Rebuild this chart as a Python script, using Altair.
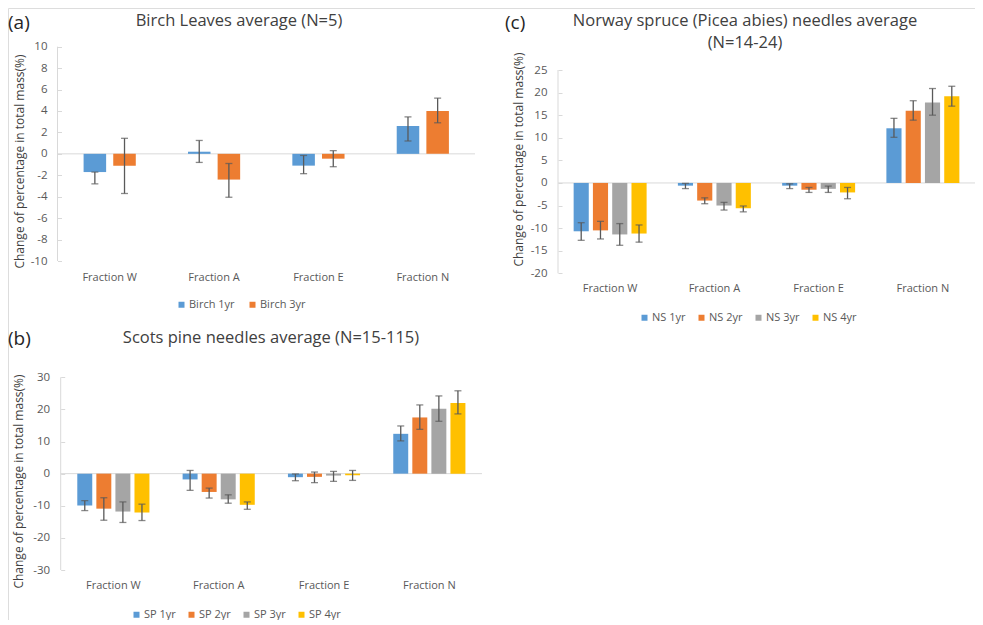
import altair as alt
import pandas as pd

# ---------------- data ----------------
CATEGORIES = ["Fraction W", "Fraction A", "Fraction E", "Fraction N"]

BIRCH_SERIES = ["Birch 1yr", "Birch 3yr"]
birch_1yr = [-1.7, 0.2, -1.1, 2.6]
birch_1yr_lo = [-2.8, -0.8, -1.85, 1.2]
birch_1yr_hi = [-1.7, 1.25, -0.15, 3.45]
birch_3yr = [-1.1, -2.4, -0.45, 4.0]
birch_3yr_lo = [-3.7, -4.05, -1.2, 2.9]
birch_3yr_hi = [1.45, -0.9, 0.3, 5.2]

SP_SERIES = ["SP 1yr", "SP 2yr", "SP 3yr", "SP 4yr"]
sp_1yr = [-9.9, -1.8, -1.1, 12.4]
sp_1yr_lo = [-11.5, -5.2, -2.2, 10.2]
sp_1yr_hi = [-8.4, 1.0, -0.1, 14.85]
sp_2yr = [-10.9, -5.7, -1.0, 17.5]
sp_2yr_lo = [-14.5, -7.6, -2.8, 13.8]
sp_2yr_hi = [-7.5, -4.5, 0.5, 21.4]
sp_3yr = [-11.8, -8.0, -0.6, 20.2]
sp_3yr_lo = [-15.2, -9.2, -2.4, 16.3]
sp_3yr_hi = [-8.8, -6.6, 0.7, 24.2]
sp_4yr = [-12.1, -9.7, -0.5, 22.0]
sp_4yr_lo = [-14.6, -11.1, -2.1, 18.6]
sp_4yr_hi = [-9.5, -8.8, 1.0, 25.8]

NS_SERIES = ["NS 1yr", "NS 2yr", "NS 3yr", "NS 4yr"]
ns_1yr = [-10.7, -0.6, -0.6, 12.1]
ns_1yr_lo = [-12.7, -1.25, -1.25, 10.1]
ns_1yr_hi = [-8.8, -0.1, -0.2, 14.3]
ns_2yr = [-10.5, -3.9, -1.5, 16.0]
ns_2yr_lo = [-12.4, -4.6, -2.1, 13.9]
ns_2yr_hi = [-8.5, -3.3, -1.0, 18.2]
ns_3yr = [-11.4, -5.0, -1.3, 17.8]
ns_3yr_lo = [-13.8, -6.0, -2.1, 15.0]
ns_3yr_hi = [-9.0, -4.3, -0.7, 20.9]
ns_4yr = [-11.2, -5.6, -2.1, 19.2]
ns_4yr_lo = [-13.1, -6.4, -3.5, 17.0]
ns_4yr_hi = [-9.3, -5.1, -1.0, 21.4]

COLORS = ["#5B9BD5", "#ED7D31", "#A5A5A5", "#FFC000"]
YTITLE = "Change of percentage in total mass(%)"


def long_df(series, values, los, his):
    rows = []
    for s, vals, ls, hs in zip(series, values, los, his):
        for c, v, l, h in zip(CATEGORIES, vals, ls, hs):
            rows.append({"category": c, "series": s, "value": v, "lo": l, "hi": h})
    return pd.DataFrame(rows)


birch_df = long_df(BIRCH_SERIES, [birch_1yr, birch_3yr],
                   [birch_1yr_lo, birch_3yr_lo], [birch_1yr_hi, birch_3yr_hi])
sp_df = long_df(SP_SERIES, [sp_1yr, sp_2yr, sp_3yr, sp_4yr],
                [sp_1yr_lo, sp_2yr_lo, sp_3yr_lo, sp_4yr_lo],
                [sp_1yr_hi, sp_2yr_hi, sp_3yr_hi, sp_4yr_hi])
ns_df = long_df(NS_SERIES, [ns_1yr, ns_2yr, ns_3yr, ns_4yr],
                [ns_1yr_lo, ns_2yr_lo, ns_3yr_lo, ns_4yr_lo],
                [ns_1yr_hi, ns_2yr_hi, ns_3yr_hi, ns_4yr_hi])

# ---------------- layout ----------------
W, H = 967, 612
FONT = "Open Sans"
LABEL_COLOR = "#595959"
TITLE_COLOR = "#404040"
AXIS_COLOR = "#D9D9D9"
ERR_COLOR = "#595959"
TICK = 4
ONE = alt.Data(values=[{}])


def panel(df, series, xr, yr, ydom, yvals, pad_in, off_pad, label_pad,
          ytitle_xy, xlabel_pad, legend_xy, col_pad):
    x1, x2 = xr
    ybot, ytop = yr
    colors = COLORS[:len(series)]
    x_enc = alt.X(
        "category:N", sort=CATEGORIES,
        scale=alt.Scale(range=[x1, x2], paddingInner=pad_in, paddingOuter=pad_in / 2),
        axis=alt.Axis(orient="bottom", offset=ybot - H, title=None, domain=False,
                      ticks=False, labelAngle=0, labelPadding=xlabel_pad,
                      labelFontSize=11, labelColor=LABEL_COLOR, labelFont=FONT),
    )
    xo = alt.XOffset("series:N", sort=series,
                     scale=alt.Scale(paddingInner=off_pad, paddingOuter=0))
    y_scale = alt.Scale(domain=ydom, range=[ybot, ytop], nice=False)
    y_axis = alt.Axis(
        orient="left", offset=-(x1 + TICK), values=yvals, domain=False, grid=False,
        tickSize=TICK, tickColor=AXIS_COLOR, labelPadding=label_pad,
        labelFontSize=11.5, labelColor=LABEL_COLOR, labelFont=FONT,
        labelExpr="datum.value + ''",
        title=YTITLE, titleX=ytitle_xy[0] - (x1 + TICK), titleY=ytitle_xy[1],
        titleAngle=270, titleAlign="center", titleBaseline="middle",
        titleFontSize=12, titleFontWeight="normal", titleColor=TITLE_COLOR,
        titleFont=FONT,
    )
    base = alt.Chart(df)
    zero = alt.Chart(ONE).mark_rule(color=AXIS_COLOR, strokeWidth=1).encode(
        x=alt.value(x1), x2=alt.value(x2),
        y=alt.Y(datum=0, scale=y_scale, axis=y_axis))
    yline = alt.Chart(ONE).mark_rule(color=AXIS_COLOR, strokeWidth=1).encode(
        x=alt.value(x1),
        y=alt.Y(datum=ydom[1], scale=y_scale, axis=y_axis),
        y2=alt.datum(ydom[0]))
    bars = base.mark_bar().encode(
        x=x_enc, xOffset=xo,
        y=alt.Y("value:Q", scale=y_scale, axis=y_axis),
        color=alt.Color(
            "series:N", sort=series, scale=alt.Scale(domain=series, range=colors),
            legend=alt.Legend(orient="none", legendX=legend_xy[0], legendY=legend_xy[1],
                              direction="horizontal", title=None, symbolType="square",
                              symbolSize=36, symbolStrokeWidth=0, labelFontSize=11,
                              labelColor=LABEL_COLOR, labelFont=FONT, labelOffset=2,
                              columnPadding=col_pad, padding=0)),
    )
    err = base.mark_rule(color=ERR_COLOR, strokeWidth=1.3).encode(
        x=x_enc, xOffset=xo,
        y=alt.Y("lo:Q", scale=y_scale, axis=y_axis), y2="hi:Q")
    cap_lo = base.mark_tick(orient="horizontal", size=7, thickness=1.3,
                            color=ERR_COLOR).encode(
        x=x_enc, xOffset=xo, y=alt.Y("lo:Q", scale=y_scale, axis=y_axis))
    cap_hi = base.mark_tick(orient="horizontal", size=7, thickness=1.3,
                            color=ERR_COLOR).encode(
        x=x_enc, xOffset=xo, y=alt.Y("hi:Q", scale=y_scale, axis=y_axis))
    return alt.layer(zero, yline, bars, err, cap_lo, cap_hi)


def text(label, x, y, size, color, align="center"):
    return alt.Chart(ONE).mark_text(
        align=align, baseline="middle", fontSize=size, color=color, font=FONT
    ).encode(x=alt.value(x), y=alt.value(y), text=alt.value(label))


pA = panel(birch_df, BIRCH_SERIES, (49.5, 467), (253, 38.7), [-10, 10],
           list(range(-10, 11, 2)), 0.5, 0.24, 10.5, (11, 153), 10,
           (168, 291), 12)
pB = panel(sp_df, SP_SERIES, (52.7, 474), (562, 369.3), [-30, 30],
           list(range(-30, 31, 10)), 0.315, 0.215, 11, (11, 473), 9.5,
           (123, 601), 10)
pC = panel(ns_df, NS_SERIES, (550, 967), (265.3, 62), [-20, 25],
           list(range(-20, 26, 5)), 0.30, 0.215, 11, (510, 151), 9.2,
           (631, 304), 10)

texts = [
    text("(a)", 0, 15, 19, "#262626", align="left"),
    text("Birch Leaves average (N=5)", 231, 12.5, 16.5, TITLE_COLOR),
    text("(b)", 0, 331, 19, "#262626", align="left"),
    text("Scots pine needles average (N=15-115)", 263, 330, 16.5, TITLE_COLOR),
    text("(c)", 497, 15, 19, "#262626", align="left"),
    text("Norway spruce (Picea abies) needles average", 737, 12.5, 16.5, TITLE_COLOR),
    text("(N=14-24)", 737, 35, 16.5, TITLE_COLOR),
]

chart = alt.layer(pA, pB, pC, *texts).resolve_scale(
    x="independent", y="independent", xOffset="independent", color="independent"
).resolve_axis(x="independent", y="independent").resolve_legend(
    color="independent"
).properties(
    width=W, height=H, padding=0, autosize=alt.AutoSizeParams(type="none")
).configure_view(stroke=None).configure(font=FONT)

chart.save("out.html", embed_options={"renderer": "svg", "actions": False})
